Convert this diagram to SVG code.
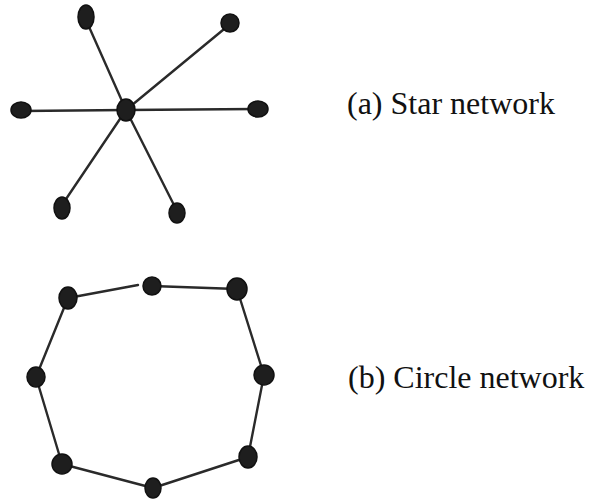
<svg xmlns="http://www.w3.org/2000/svg" width="595" height="499" viewBox="0 0 595 499">
<style>
.edge{stroke:#2a2a2a;stroke-width:2.4;stroke-linecap:round;fill:none}
.node{fill:#1e1e1e;stroke:#111;stroke-width:1.5}
.lbl{font-family:'Liberation Serif','Times New Roman','DejaVu Serif',serif;font-size:32px;fill:#111}
</style>
<rect width="595" height="499" fill="#fff"/>
<g id="star-edges">
<line class="edge" x1="126" y1="110" x2="86" y2="20"/>
<line class="edge" x1="126" y1="110" x2="229" y2="25"/>
<line class="edge" x1="126" y1="110" x2="22" y2="111"/>
<line class="edge" x1="126" y1="110" x2="256" y2="109"/>
<line class="edge" x1="126" y1="110" x2="62" y2="205"/>
<line class="edge" x1="126" y1="110" x2="177" y2="211"/>
</g>
<g id="star-center"><ellipse class="node" cx="126" cy="110" rx="9" ry="11"/></g>
<g id="star-n1"><ellipse class="node" cx="86" cy="17" rx="8" ry="12"/></g>
<g id="star-n2"><ellipse class="node" cx="230" cy="23" rx="9" ry="9"/></g>
<g id="star-n3"><ellipse class="node" cx="21" cy="110" rx="10" ry="8"/></g>
<g id="star-n4"><ellipse class="node" cx="258" cy="109" rx="10" ry="8"/></g>
<g id="star-n5"><ellipse class="node" cx="62" cy="208" rx="8" ry="11"/></g>
<g id="star-n6"><ellipse class="node" cx="177" cy="213" rx="8" ry="10"/></g>
<g id="circle-edges">
<path class="edge" d="M152 286 L237 289"/>
<path class="edge" d="M237 289 L264 375"/>
<path class="edge" d="M264 375 L248 457"/>
<path class="edge" d="M248 457 L153 488"/>
<path class="edge" d="M153 488 L62 464"/>
<path class="edge" d="M62 464 L36 377"/>
<path class="edge" d="M36 377 L68 298"/>
<path class="edge" d="M68 298 L138 285"/>
</g>
<g id="circle-n1"><ellipse class="node" cx="152" cy="286" rx="9" ry="9"/></g>
<g id="circle-n2"><ellipse class="node" cx="237" cy="289" rx="10" ry="11"/></g>
<g id="circle-n3"><ellipse class="node" cx="264" cy="375" rx="10" ry="10"/></g>
<g id="circle-n4"><ellipse class="node" cx="248" cy="457" rx="9" ry="11"/></g>
<g id="circle-n5"><ellipse class="node" cx="153" cy="488" rx="8" ry="10"/></g>
<g id="circle-n6"><ellipse class="node" cx="62" cy="464" rx="10" ry="10"/></g>
<g id="circle-n7"><ellipse class="node" cx="36" cy="377" rx="9" ry="10"/></g>
<g id="circle-n8"><ellipse class="node" cx="68" cy="298" rx="9" ry="11"/></g>
<text class="lbl" font-family="'Liberation Serif','Times New Roman',serif" x="347" y="114">(a) Star network</text>
<text class="lbl" font-family="'Liberation Serif','Times New Roman',serif" x="348" y="388">(b) Circle network</text>
</svg>
